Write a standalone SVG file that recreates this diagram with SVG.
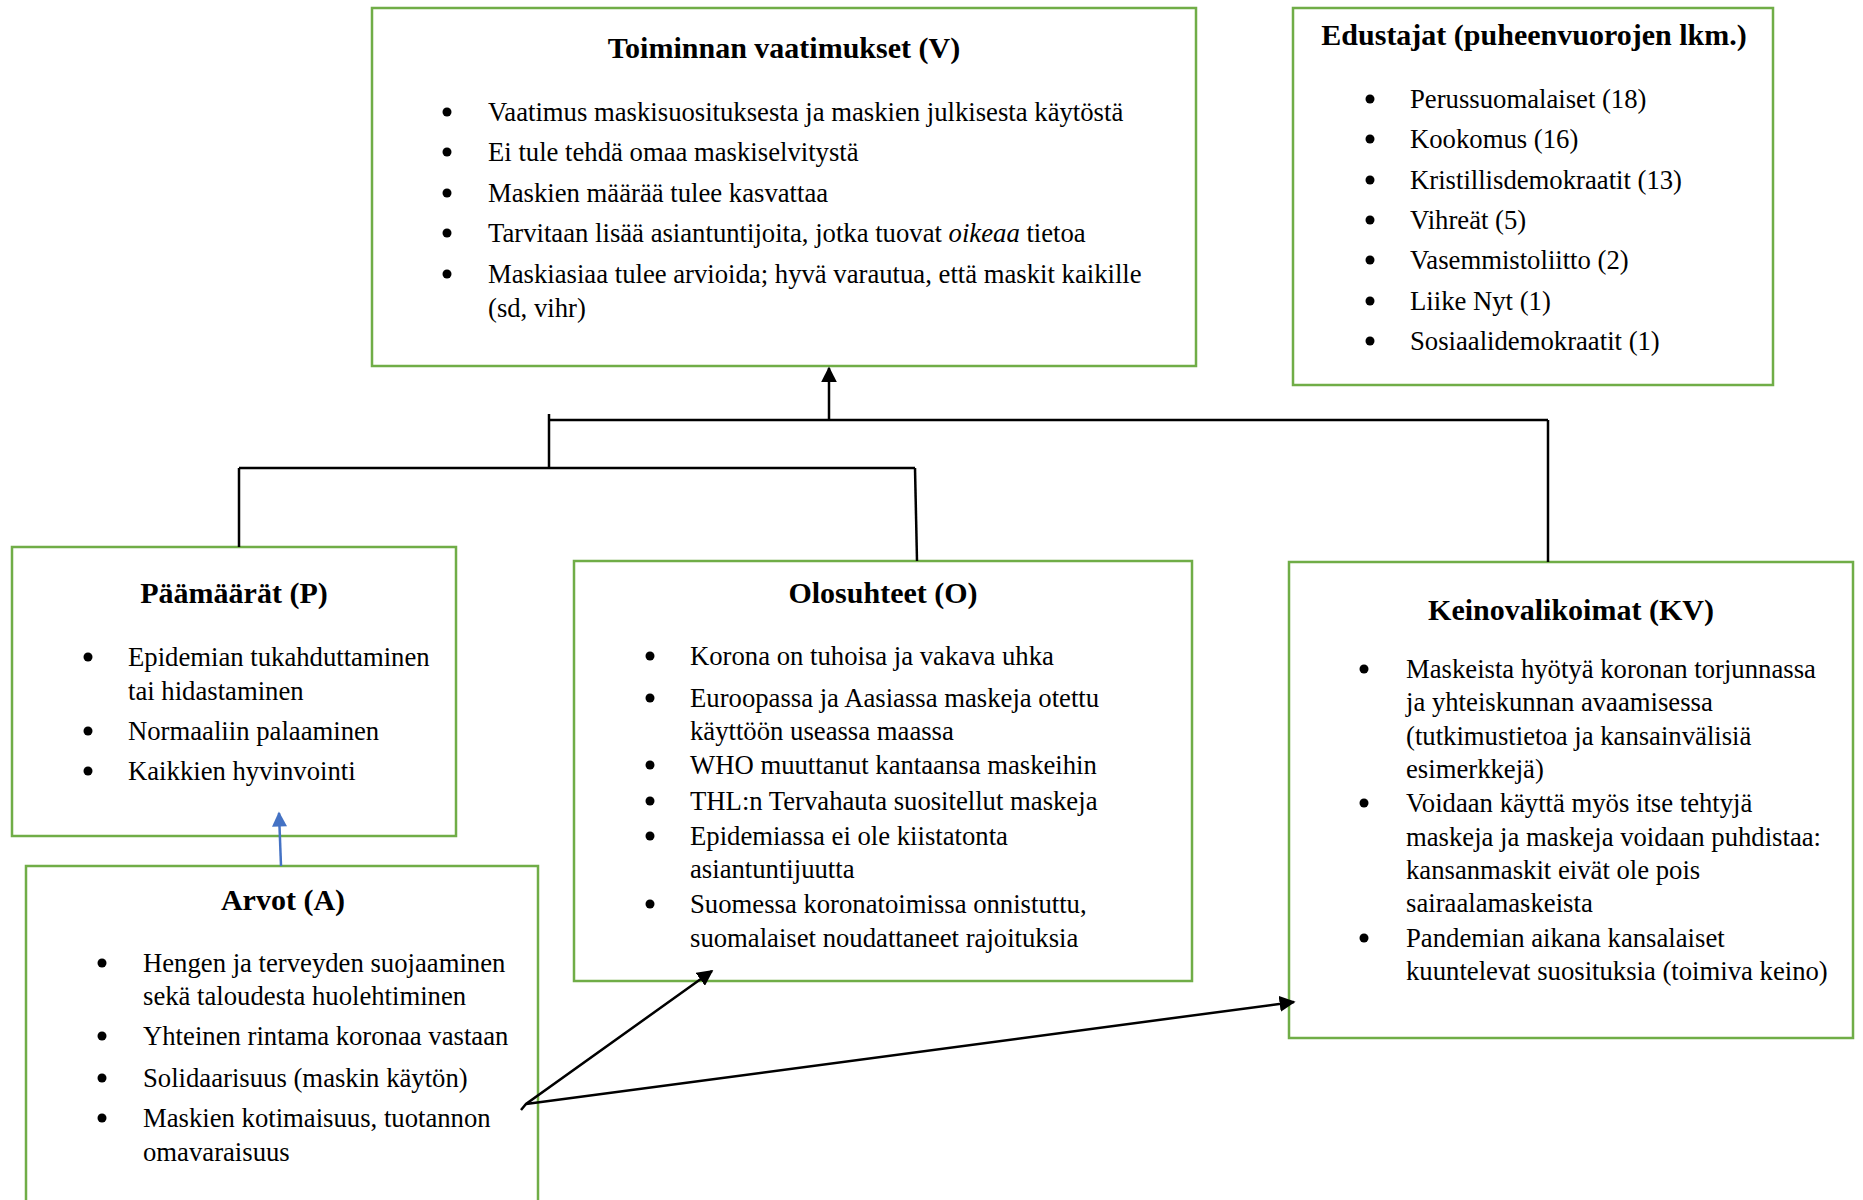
<svg xmlns="http://www.w3.org/2000/svg" xmlns:xlink="http://www.w3.org/1999/xlink" width="1863" height="1200" viewBox="0 0 1863 1200">
<style>
.box{fill:#fff;stroke:#70AD47;stroke-width:2.5}
.t{font-family:"Liberation Serif","Times New Roman",serif;font-size:26.7px;fill:#000}
.h{font-family:"Liberation Serif","Times New Roman",serif;font-size:30px;font-weight:bold;fill:#000;text-anchor:middle}
.ln{fill:none;stroke:#000;stroke-width:2.5}
</style>
<defs>
<marker id="ahk" viewBox="0 0 10 10" refX="9" refY="5" markerWidth="16" markerHeight="16" markerUnits="userSpaceOnUse" orient="auto"><path d="M0,0 L10,5 L0,10 z" fill="#000"/></marker>
<marker id="ahb" viewBox="0 0 10 10" refX="9" refY="5" markerWidth="16" markerHeight="15" markerUnits="userSpaceOnUse" orient="auto"><path d="M0,0 L10,5 L0,10 z" fill="#4472C4"/></marker>
<circle id="dot" r="4.5"/>
</defs>

<g id="node-V">
<rect class="box" x="372" y="8" width="824" height="358"/>
<text class="h" x="784" y="58">Toiminnan vaatimukset (V)</text>
<use xlink:href="#dot" x="447" y="112"/>
<use xlink:href="#dot" x="447" y="152"/>
<use xlink:href="#dot" x="447" y="193"/>
<use xlink:href="#dot" x="447" y="233"/>
<use xlink:href="#dot" x="447" y="274"/>
<text class="t" x="488" y="121">Vaatimus maskisuosituksesta ja maskien julkisesta käytöstä</text>
<text class="t" x="488" y="161">Ei tule tehdä omaa maskiselvitystä</text>
<text class="t" x="488" y="202">Maskien määrää tulee kasvattaa</text>
<text class="t" x="488" y="242">Tarvitaan lisää asiantuntijoita, jotka tuovat <tspan font-style="italic">oikeaa</tspan> tietoa</text>
<text class="t" x="488" y="283">Maskiasiaa tulee arvioida; hyvä varautua, että maskit kaikille</text>
<text class="t" x="488" y="317">(sd, vihr)</text>
</g>

<g id="node-Edustajat">
<rect class="box" x="1293" y="8" width="480" height="377"/>
<text class="h" x="1534" y="45">Edustajat (puheenvuorojen lkm.)</text>
<use xlink:href="#dot" x="1370" y="99"/>
<use xlink:href="#dot" x="1370" y="139"/>
<use xlink:href="#dot" x="1370" y="180"/>
<use xlink:href="#dot" x="1370" y="220"/>
<use xlink:href="#dot" x="1370" y="260"/>
<use xlink:href="#dot" x="1370" y="301"/>
<use xlink:href="#dot" x="1370" y="341"/>
<text class="t" x="1410" y="108">Perussuomalaiset (18)</text>
<text class="t" x="1410" y="148">Kookomus (16)</text>
<text class="t" x="1410" y="189">Kristillisdemokraatit (13)</text>
<text class="t" x="1410" y="229">Vihreät (5)</text>
<text class="t" x="1410" y="269">Vasemmistoliitto (2)</text>
<text class="t" x="1410" y="310">Liike Nyt (1)</text>
<text class="t" x="1410" y="350">Sosiaalidemokraatit (1)</text>
</g>

<g id="node-P">
<rect class="box" x="12" y="547" width="444" height="289"/>
<text class="h" x="234" y="603">Päämäärät (P)</text>
<use xlink:href="#dot" x="88" y="657"/>
<use xlink:href="#dot" x="88" y="731"/>
<use xlink:href="#dot" x="88" y="771"/>
<text class="t" x="128" y="666">Epidemian tukahduttaminen</text>
<text class="t" x="128" y="700">tai hidastaminen</text>
<text class="t" x="128" y="740">Normaaliin palaaminen</text>
<text class="t" x="128" y="780">Kaikkien hyvinvointi</text>
</g>

<g id="node-O">
<rect class="box" x="574" y="561" width="618" height="420"/>
<text class="h" x="883" y="603">Olosuhteet (O)</text>
<use xlink:href="#dot" x="650" y="656"/>
<use xlink:href="#dot" x="650" y="698"/>
<use xlink:href="#dot" x="650" y="765"/>
<use xlink:href="#dot" x="650" y="801"/>
<use xlink:href="#dot" x="650" y="836"/>
<use xlink:href="#dot" x="650" y="904"/>
<text class="t" x="690" y="665">Korona on tuhoisa ja vakava uhka</text>
<text class="t" x="690" y="707">Euroopassa ja Aasiassa maskeja otettu</text>
<text class="t" x="690" y="740">käyttöön useassa maassa</text>
<text class="t" x="690" y="774">WHO muuttanut kantaansa maskeihin</text>
<text class="t" x="690" y="810">THL:n Tervahauta suositellut maskeja</text>
<text class="t" x="690" y="845">Epidemiassa ei ole kiistatonta</text>
<text class="t" x="690" y="878">asiantuntijuutta</text>
<text class="t" x="690" y="913">Suomessa koronatoimissa onnistuttu,</text>
<text class="t" x="690" y="947">suomalaiset noudattaneet rajoituksia</text>
</g>

<g id="node-KV">
<rect class="box" x="1289" y="562" width="564" height="476"/>
<text class="h" x="1571" y="620">Keinovalikoimat (KV)</text>
<use xlink:href="#dot" x="1364" y="669"/>
<use xlink:href="#dot" x="1364" y="803"/>
<use xlink:href="#dot" x="1364" y="938"/>
<text class="t" x="1406" y="678">Maskeista hyötyä koronan torjunnassa</text>
<text class="t" x="1406" y="711">ja yhteiskunnan avaamisessa</text>
<text class="t" x="1406" y="745">(tutkimustietoa ja kansainvälisiä</text>
<text class="t" x="1406" y="778">esimerkkejä)</text>
<text class="t" x="1406" y="812">Voidaan käyttä myös itse tehtyjä</text>
<text class="t" x="1406" y="846">maskeja ja maskeja voidaan puhdistaa:</text>
<text class="t" x="1406" y="879">kansanmaskit eivät ole pois</text>
<text class="t" x="1406" y="912">sairaalamaskeista</text>
<text class="t" x="1406" y="947">Pandemian aikana kansalaiset</text>
<text class="t" x="1406" y="980">kuuntelevat suosituksia (toimiva keino)</text>
</g>

<g id="node-A">
<rect class="box" x="26" y="866" width="512" height="360"/>
<text class="h" x="283" y="910">Arvot (A)</text>
<use xlink:href="#dot" x="102" y="963"/>
<use xlink:href="#dot" x="102" y="1036"/>
<use xlink:href="#dot" x="102" y="1078"/>
<use xlink:href="#dot" x="102" y="1118"/>
<text class="t" x="143" y="972">Hengen ja terveyden suojaaminen</text>
<text class="t" x="143" y="1005">sekä taloudesta huolehtiminen</text>
<text class="t" x="143" y="1045">Yhteinen rintama koronaa vastaan</text>
<text class="t" x="143" y="1087">Solidaarisuus (maskin käytön)</text>
<text class="t" x="143" y="1127">Maskien kotimaisuus, tuotannon</text>
<text class="t" x="143" y="1161">omavaraisuus</text>
</g>

<g id="connectors">
<path class="ln" d="M829,420 L829,368" marker-end="url(#ahk)"/>
<path class="ln" d="M549,420 L1548,420"/>
<path class="ln" d="M549,414 L549,468"/>
<path class="ln" d="M239,468 L915,468"/>
<path class="ln" d="M239,468 L239,547"/>
<path class="ln" d="M915,468 L917,561"/>
<path class="ln" d="M1548,420 L1548,562"/>
<path d="M281,866 L279,813" fill="none" stroke="#4472C4" stroke-width="2.5" marker-end="url(#ahb)"/>
<path class="ln" d="M521,1110 L526,1104 L712,971" marker-end="url(#ahk)"/>
<path class="ln" d="M526,1104 L1294,1002" marker-end="url(#ahk)"/>
</g>
</svg>
